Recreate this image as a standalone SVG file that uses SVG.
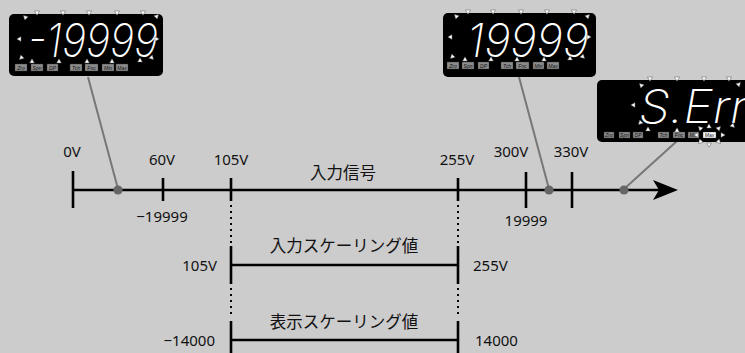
<svg xmlns="http://www.w3.org/2000/svg" xmlns:xlink="http://www.w3.org/1999/xlink" width="745" height="353" viewBox="0 0 745 353">
<style>
.disp{fill:#000}
.seg{font-family:"Inter","Lato","Open Sans",sans-serif;font-style:oblique 8deg;font-weight:200;fill:#fff}
.lb rect{fill:#8c8c8c;stroke:#333;stroke-width:0.4}
.lb text{font-family:"Liberation Sans",sans-serif;font-style:italic;font-size:5px;fill:#111;text-anchor:middle}
.tri{fill:#fff;stroke:#555;stroke-width:0.5}
.ax{stroke:#000;stroke-width:2.6;fill:none}
.dot{stroke:#000;stroke-width:2;stroke-dasharray:2 4;fill:none}
.lead{stroke:#777;stroke-width:2;fill:none}
.pt{fill:#666}
.t{font-family:"Noto Sans","Noto Sans CJK JP",sans-serif;font-size:15px;fill:#111}
.j{font-family:"Noto Sans CJK JP","Noto Sans",sans-serif;font-size:16.5px;fill:#111}
</style>
<defs>
<path id="td" d="M-2.6,-2 L2.6,-2 L0,2.2 Z"/>
<path id="tu" d="M-2.4,2 L2.4,2 L0,-2.2 Z"/>
</defs>
<rect width="745" height="353" fill="#cccccc"/>

<g id="connectors">
<line class="lead" x1="88" y1="77" x2="118" y2="189"/>
<line class="lead" x1="519" y1="77" x2="549" y2="189"/>
<line class="lead" x1="677" y1="141" x2="624" y2="189"/>
<line class="ax" x1="73" y1="190" x2="660" y2="190"/>
<path d="M653,180 L678,190 L653,200 L659,190 Z" fill="#000"/>
<line class="ax" x1="73" y1="171" x2="73" y2="208"/>
<line class="ax" x1="163" y1="178" x2="163" y2="201"/>
<line class="ax" x1="231" y1="178" x2="231" y2="201"/>
<line class="ax" x1="458" y1="178" x2="458" y2="201"/>
<line class="ax" x1="526" y1="172" x2="526" y2="208"/>
<line class="ax" x1="572" y1="172" x2="572" y2="208"/>
<circle class="pt" cx="118" cy="190" r="4.6"/>
<circle class="pt" cx="549" cy="190" r="4.6"/>
<circle class="pt" cx="624" cy="190" r="4.6"/>
<line class="dot" x1="231" y1="205" x2="231" y2="244"/>
<line class="dot" x1="458" y1="205" x2="458" y2="244"/>
<line class="ax" x1="231" y1="246" x2="231" y2="284"/>
<line class="ax" x1="458" y1="246" x2="458" y2="284"/>
<line class="ax" x1="231" y1="265" x2="458" y2="265"/>
<line class="dot" x1="231" y1="288" x2="231" y2="318"/>
<line class="dot" x1="458" y1="288" x2="458" y2="318"/>
<line class="ax" x1="231" y1="321" x2="231" y2="353"/>
<line class="ax" x1="458" y1="321" x2="458" y2="353"/>
<line class="ax" x1="231" y1="340" x2="458" y2="340"/>
</g>

<g id="labels">
<text class="t" x="72" y="157" text-anchor="middle">0V</text>
<text class="t" x="162" y="165" text-anchor="middle">60V</text>
<text class="t" x="231" y="165" text-anchor="middle">105V</text>
<text class="j" x="343" y="179" text-anchor="middle">入力信号</text>
<text class="t" x="457" y="165" text-anchor="middle">255V</text>
<text class="t" x="511" y="157" text-anchor="middle">300V</text>
<text class="t" x="571" y="157" text-anchor="middle">330V</text>
<text class="t" x="162" y="222" text-anchor="middle">−19999</text>
<text class="t" x="526" y="226" text-anchor="middle">19999</text>
<text class="j" x="344" y="252" text-anchor="middle">入力スケーリング値</text>
<text class="t" x="217" y="271" text-anchor="end">105V</text>
<text class="t" x="473" y="271">255V</text>
<text class="j" x="344" y="328" text-anchor="middle">表示スケーリング値</text>
<text class="t" x="215" y="346" text-anchor="end">−14000</text>
<text class="t" x="475" y="346">14000</text>
</g>

<g id="display-min">
<rect class="disp" x="9" y="14" width="154" height="62" rx="5"/>
<text class="seg" x="28" y="57" font-size="46" textLength="130" lengthAdjust="spacingAndGlyphs">-19999</text>
<g class="lb">
<rect x="15" y="64" width="12" height="7"/><text x="21" y="69.5">Zro</text>
<rect x="31" y="64" width="12" height="7"/><text x="37" y="69.5">Spn</text>
<rect x="47" y="64" width="11" height="7"/><text x="52.5" y="69.5">DP</text>
<rect x="70" y="64" width="12" height="7"/><text x="76" y="69.5">Tch</text>
<rect x="85" y="64" width="13" height="7"/><text x="91.5" y="69.5">Fnc</text>
<rect x="102" y="64" width="12" height="7"/><text x="108" y="69.5">Min</text>
<rect x="116" y="64" width="12" height="7"/><text x="122" y="69.5">Max</text>
</g>
<g class="tri">
<use href="#td" x="37" y="13"/><use href="#td" x="63" y="13"/><use href="#td" x="89" y="13"/><use href="#td" x="117" y="13"/><use href="#td" x="143" y="13"/>
<use href="#tu" x="32" y="61"/><use href="#tu" x="59" y="61"/><use href="#tu" x="87" y="61"/><use href="#tu" x="112" y="61"/><use href="#tu" x="140" y="60"/>
<use href="#tu" transform="translate(25,17) rotate(-45)"/>
<use href="#tu" transform="translate(19,39) rotate(-90)"/>
<use href="#tu" transform="translate(21,58) rotate(-135)"/>
<use href="#tu" transform="translate(157,16) rotate(45)"/>
<use href="#tu" transform="translate(157,39) rotate(90)"/>
<use href="#tu" transform="translate(152,58) rotate(135)"/>
</g>
</g>

<g id="display-max">
<rect class="disp" x="443" y="13" width="153" height="64" rx="5"/>
<text class="seg" x="467" y="57" font-size="46" textLength="122" lengthAdjust="spacingAndGlyphs">19999</text>
<g class="lb">
<rect x="447" y="62" width="12" height="7"/><text x="453" y="67.5">Zro</text>
<rect x="462" y="62" width="12" height="7"/><text x="468" y="67.5">Spn</text>
<rect x="478" y="62" width="11" height="7"/><text x="483.5" y="67.5">DP</text>
<rect x="501" y="62" width="12" height="7"/><text x="507" y="67.5">Tch</text>
<rect x="516" y="62" width="13" height="7"/><text x="522.5" y="67.5">Fnc</text>
<rect x="533" y="62" width="11" height="7"/><text x="538.5" y="67.5">Min</text>
<rect x="547" y="62" width="12" height="7"/><text x="553" y="67.5">Max</text>
</g>
<g class="tri">
<use href="#td" x="468" y="12"/><use href="#td" x="493" y="12"/><use href="#td" x="521" y="12"/><use href="#td" x="547" y="12"/><use href="#td" x="574" y="12"/>
<use href="#tu" x="465" y="59"/><use href="#tu" x="491" y="59"/><use href="#tu" x="517" y="59"/><use href="#tu" x="544" y="59"/><use href="#tu" x="570" y="58"/>
<use href="#tu" transform="translate(456,16) rotate(-45)"/>
<use href="#tu" transform="translate(450,37) rotate(-90)"/>
<use href="#tu" transform="translate(452,57) rotate(-135)"/>
<use href="#tu" transform="translate(588,16) rotate(45)"/>
<use href="#tu" transform="translate(589,37) rotate(90)"/>
<use href="#tu" transform="translate(583,57) rotate(135)"/>
</g>
</g>

<g id="display-error">
<rect class="disp" x="597" y="80" width="160" height="62" rx="5"/>
<text class="seg" x="639" y="123" font-size="46" textLength="108" lengthAdjust="spacingAndGlyphs">S.Err</text>
<g class="lb">
<rect x="604" y="132" width="10" height="6"/><text x="609" y="137">Zro</text>
<rect x="619" y="132" width="11" height="6"/><text x="624.5" y="137">Spn</text>
<rect x="633" y="132" width="10" height="6"/><text x="638" y="137">DP</text>
<rect x="658" y="132" width="11" height="6"/><text x="663.5" y="137">Tch</text>
<rect x="673" y="132" width="12" height="6"/><text x="679" y="137">Fnc</text>
<rect x="688" y="132" width="11" height="6"/><text x="693.5" y="137">Min</text>
<rect x="703" y="132" width="13" height="6" style="fill:#fff"/><text x="709.5" y="137">Max</text>
</g>
<g class="tri">
<use href="#td" x="650" y="79"/><use href="#td" x="677" y="79"/><use href="#td" x="704" y="79"/><use href="#td" x="729" y="79"/>
<use href="#tu" x="648" y="129"/><use href="#tu" x="677" y="130"/>
<use href="#tu" transform="translate(641,85) rotate(-45)"/>
<use href="#tu" transform="translate(633,105) rotate(-90)"/>
<use href="#tu" transform="translate(640,123) rotate(-135)"/>
<use href="#tu" transform="translate(739,84) rotate(45)"/>
<use href="#tu" transform="translate(733,126) rotate(135)"/>
<use href="#tu" transform="translate(700,128) rotate(-45)"/>
<use href="#tu" transform="translate(709,126)"/>
<use href="#tu" transform="translate(719,128) rotate(45)"/>
<use href="#tu" transform="translate(723,135) rotate(90)"/>
<use href="#tu" transform="translate(719,142) rotate(135)"/>
<use href="#tu" transform="translate(709,145) rotate(180)"/>
<use href="#tu" transform="translate(700,142) rotate(-135)"/>
<use href="#tu" transform="translate(696,135) rotate(-90)"/>
</g>
</g>
</svg>
